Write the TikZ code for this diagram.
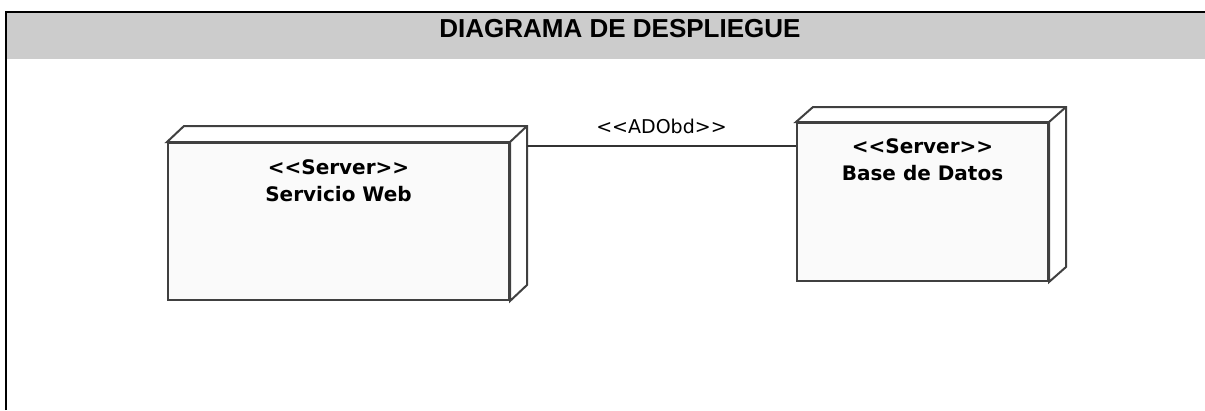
\documentclass[tikz,border=0pt]{standalone}
\usepackage{fontspec}
\setmainfont{Liberation Sans}
\newfontfamily\boxfont{DejaVu Sans}
\usetikzlibrary{positioning}

\begin{document}
\begin{tikzpicture}[x=1pt,y=-1pt]
	\tikzstyle{server} = [draw=black!75,line width=2pt,fill=black!2,inner sep=0pt]
	\tikzstyle{depth} = [draw=black!75,line width=2pt,fill=white,line join=miter]
	\tikzstyle{stereo} = [font=\boxfont\bfseries\fontsize{20}{22}\selectfont,inner sep=0pt]
	\tikzstyle{link} = [draw=black!80,line width=1.8pt]
	\useasboundingbox (0,0) rectangle (1205,410);
	% header
	\fill[black!20] (6,12) rectangle (1205,59);
	\draw[line width=2.2pt] (6,410) -- (6,12) -- (1205,12);
	\node[font=\bfseries\fontsize{26}{28}\selectfont,anchor=base] (title) at (620,37.5) {DIAGRAMA DE DESPLIEGUE};
	% web server node
	\node[server,minimum width=341pt,minimum height=157pt] (web) at (338.5,221.5) {};
	\draw[depth] (web.north west) -- ++(17,-16) -- ([shift={(17,-16)}]web.north east)
		-- ([shift={(17,-16)}]web.south east) -- (web.south east) -- (web.north east) -- cycle;
	\draw[depth] (web.north east) -- ++(17,-16);
	\node[stereo,below=17pt of web.north] (webst) {<{}<Server>{}>};
	\node[stereo,below=12pt of webst] (webname) {Servicio Web};
	% database node
	\node[server,minimum width=251pt,minimum height=158pt] (db) at (922.5,202) {};
	\draw[depth] (db.north west) -- ++(17,-15) -- ([shift={(17,-15)}]db.north east)
		-- ([shift={(17,-15)}]db.south east) -- (db.south east) -- (db.north east) -- cycle;
	\draw[depth] (db.north east) -- ++(17,-15);
	\node[stereo,below=16pt of db.north] (dbst) {<{}<Server>{}>};
	\node[stereo,below=12pt of dbst] (dbname) {Base de Datos};
	% connection
	\draw[link] ([shift={(17,4)}]web.north east) coordinate (linkstart) -- (linkstart -| db.west)
		node[midway,above=11pt,font=\boxfont\fontsize{19}{21}\selectfont,inner sep=0pt] (linklabel) {<{}<ADObd>{}>};
\end{tikzpicture}
\end{document}
